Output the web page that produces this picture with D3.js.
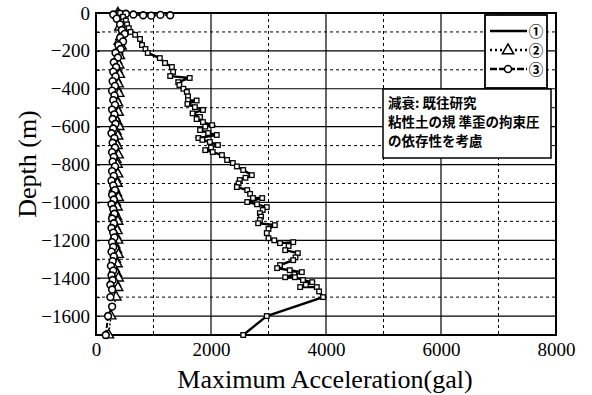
<!DOCTYPE html>
<html><head><meta charset="utf-8">
<script src="https://cdn.jsdelivr.net/npm/d3@7"></script>
<style>body{margin:0;background:#fff}svg{display:block}</style>
</head><body>
<svg id="c" width="592" height="395"></svg>
<script>
// ---- data ----
const xTicks = [0, 2000, 4000, 6000, 8000];
const yTicks = [0, -200, -400, -600, -800, -1000, -1200, -1400, -1600];
const legendLabels = ["①", "②", "③"];
const noteLines = ["減衰:  既往研究", "粘性土の規 準歪の拘束圧", "の依存性を考慮"];

// series 1 (solid line) : depth (m), max acceleration (gal)
const depth1 = [0,-20,-40,-60,-80,-100,-115,-137,-169,-190,-211,-238,-264,-285,-311,-333,-343,-365,-380,-400,-417,-440,-460,-462,-480,-497,-512,-530,-549,-560,-576,-592,-600,-618,-634,-644,-660,-670,-681,-697,-710,-724,-734,-750,-776,-792,-810,-829,-856,-870,-882,-900,-919,-935,-955,-977,-977,-998,-1010,-1025,-1040,-1057,-1075,-1093,-1110,-1120,-1140,-1162,-1189,-1200,-1215,-1210,-1230,-1252,-1268,-1290,-1305,-1331,-1347,-1358,-1368,-1380,-1395,-1395,-1410,-1421,-1435,-1447,-1447,-1470,-1500,-1600,-1700];
const accel1 = [420,470,520,540,570,600,680,765,800,860,900,1110,1200,1320,1340,1290,1630,1430,1450,1520,1580,1600,1600,1750,1590,1720,1860,1680,1810,1750,1860,2020,1900,1810,1950,2100,1780,1850,1980,2120,2000,1900,2030,2190,2280,2380,2450,2560,2710,2600,2500,2480,2450,2630,2680,2730,2890,2630,2800,2970,2900,2850,2870,2850,2820,3110,3000,2970,3000,3100,3200,3430,3350,3290,3510,3470,3430,3200,3150,3370,3580,3450,3290,3460,3600,3760,3650,3550,3840,3880,3950,2970,2560];

// series 2 (triangles)
const depth2 = [0,-25,-50,-75,-100,-125,-150,-175,-200,-225,-250,-275,-300,-325,-350,-375,-400,-425,-450,-475,-500,-525,-550,-575,-600,-625,-650,-675,-700,-725,-750,-775,-800,-825,-850,-875,-900,-925,-950,-975,-1000,-1025,-1050,-1075,-1100,-1125,-1150,-1175,-1200,-1225,-1250,-1275,-1300,-1325,-1350,-1375,-1400,-1425,-1450,-1500,-1600,-1700];
const accel2 = [380,420,450,410,470,430,400,440,380,410,360,400,370,410,350,390,360,400,340,380,350,390,330,370,400,350,380,330,370,340,390,350,370,330,380,340,370,320,360,390,340,370,320,360,380,330,370,340,380,330,360,390,340,370,320,360,390,340,380,350,260,220];

// series 3 (circles)
const depth3 = [-12,-10,-14,-12,-8,-4,-2,-8,-30,-45,-60,-75,-90,-110,-130,-150,-170,-190,-210,-235,-260,-285,-310,-335,-360,-385,-410,-435,-460,-485,-510,-535,-560,-585,-610,-635,-660,-685,-710,-735,-760,-785,-810,-835,-860,-885,-910,-935,-960,-985,-1010,-1035,-1060,-1085,-1110,-1135,-1160,-1185,-1210,-1235,-1260,-1285,-1310,-1335,-1360,-1385,-1410,-1435,-1460,-1500,-1550,-1600,-1700];
const accel3 = [1290,1120,960,820,650,520,400,300,360,480,420,520,450,500,420,470,390,430,340,380,310,350,300,340,290,330,280,320,300,330,280,320,290,340,300,270,320,290,330,280,310,290,330,280,310,270,300,330,280,310,270,300,320,280,310,270,300,320,280,300,270,310,290,260,300,270,290,250,280,250,280,210,170];

// ---- layout ----
const L = 96, R = 556, T = 13, B = 335;
const svg = d3.select("#c");
const x = d3.scaleLinear().domain([0, 8000]).range([L, R]);
const y = d3.scaleLinear().domain([-1700, 0]).range([B, T]);
const serif = "'Liberation Serif','DejaVu Serif',serif";
const cjk = "'Noto Sans CJK JP','Noto Sans CJK SC',sans-serif";

// grid
const g = svg.append("g");
const yMinor = [-100,-300,-500,-700,-900,-1100,-1300,-1500];
const yMajor = [-200,-400,-600,-800,-1000,-1200,-1400,-1600];
const xMinor = [1000,3000,5000,7000];
const xMajor = [2000,4000,6000];
g.selectAll(".hmin").data(yMinor).join("line")
  .attr("x1", L).attr("x2", R).attr("y1", d => y(d)).attr("y2", d => y(d))
  .attr("stroke", "#000").attr("stroke-width", 1).attr("stroke-dasharray", "3,3");
g.selectAll(".hmaj").data(yMajor).join("line")
  .attr("x1", L).attr("x2", R).attr("y1", d => y(d)).attr("y2", d => y(d))
  .attr("stroke", "#000").attr("stroke-width", 1.2);
g.selectAll(".vmin").data(xMinor).join("line")
  .attr("x1", d => x(d)).attr("x2", d => x(d)).attr("y1", T).attr("y2", B)
  .attr("stroke", "#000").attr("stroke-width", 1).attr("stroke-dasharray", "3,3");
g.selectAll(".vmaj").data(xMajor).join("line")
  .attr("x1", d => x(d)).attr("x2", d => x(d)).attr("y1", T).attr("y2", B)
  .attr("stroke", "#000").attr("stroke-width", 1.2);

// axes
const yAxis = d3.axisLeft(y).tickValues(yTicks).tickSize(0).tickPadding(6).tickFormat(d => d === 0 ? "0" : "\u2212" + Math.abs(d));
const ya = svg.append("g").attr("transform", `translate(${L},0)`).call(yAxis);
ya.select(".domain").remove();
ya.selectAll("text").attr("font-family", serif).attr("font-size", 19).attr("fill", "#000");
const yMinorTicks = d3.axisRight(y).tickValues(d3.range(-1700, 1, 100)).tickSize(4).tickFormat("");
const ym = svg.append("g").attr("transform", `translate(${L},0)`).call(yMinorTicks);
ym.select(".domain").remove();
ym.selectAll("line").attr("stroke", "#000");

const xAxis = d3.axisBottom(x).tickValues(xTicks).tickSize(0).tickPadding(8).tickFormat(d3.format("d"));
const xa = svg.append("g").attr("transform", `translate(0,${B})`).call(xAxis);
xa.select(".domain").remove();
xa.selectAll("text").attr("font-family", serif).attr("font-size", 19).attr("fill", "#000");

// frame
svg.append("rect").attr("x", L).attr("y", T).attr("width", R - L).attr("height", B - T)
  .attr("fill", "none").attr("stroke", "#000").attr("stroke-width", 2);

// titles
svg.append("text").attr("x", (L + R) / 2 - 1).attr("y", 388).attr("text-anchor", "middle")
  .attr("font-family", serif).attr("font-size", 26).text("Maximum Acceleration(gal)");
svg.append("text").attr("transform", "translate(36,164) rotate(-90)").attr("text-anchor", "middle")
  .attr("font-family", serif).attr("font-size", 26).text("Depth (m)");

// series
const mk = (d, a) => d.map((v, i) => [a[i], v]);
const s1 = mk(depth1, accel1), s2 = mk(depth2, accel2), s3 = mk(depth3, accel3);
const line = d3.line().x(d => x(d[0])).y(d => y(d[1]));

svg.append("path").datum(s2).attr("d", line).attr("fill", "none")
  .attr("stroke", "#000").attr("stroke-width", 1.5).attr("stroke-dasharray", "2,2");
svg.append("path").datum(s3).attr("d", line).attr("fill", "none")
  .attr("stroke", "#000").attr("stroke-width", 2).attr("stroke-dasharray", "5,2");
svg.append("path").datum(s1).attr("d", line).attr("fill", "none")
  .attr("stroke", "#000").attr("stroke-width", 2.4);

const tri = d3.symbol().type(d3.symbolTriangle).size(42);
svg.append("g").selectAll("path").data(s2).join("path")
  .attr("d", tri).attr("transform", d => `translate(${x(d[0])},${y(d[1])})`)
  .attr("fill", "#fff").attr("stroke", "#000").attr("stroke-width", 1.4);
svg.append("g").selectAll("circle").data(s3).join("circle")
  .attr("cx", d => x(d[0])).attr("cy", d => y(d[1])).attr("r", 3.4)
  .attr("fill", "#fff").attr("stroke", "#000").attr("stroke-width", 1.6);
svg.append("g").selectAll("rect").data(s1).join("rect")
  .attr("x", d => x(d[0]) - 2.3).attr("y", d => y(d[1]) - 2.3).attr("width", 4.6).attr("height", 4.6)
  .attr("fill", "#fff").attr("stroke", "#000").attr("stroke-width", 1.3);

// legend
const lg = svg.append("g");
lg.append("rect").attr("x", 485).attr("y", 15).attr("width", 62).attr("height", 73)
  .attr("fill", "#fff").attr("stroke", "#000").attr("stroke-width", 1.8);
const rowsY = [31, 50, 69];
lg.append("line").attr("x1", 490).attr("x2", 527).attr("y1", rowsY[0]).attr("y2", rowsY[0])
  .attr("stroke", "#000").attr("stroke-width", 2.5);
lg.append("line").attr("x1", 490).attr("x2", 527).attr("y1", rowsY[1]).attr("y2", rowsY[1])
  .attr("stroke", "#000").attr("stroke-width", 2.5).attr("stroke-dasharray", "2,3");
lg.append("path").attr("d", d3.symbol().type(d3.symbolTriangle).size(55))
  .attr("transform", `translate(508,${rowsY[1] + 0.5})`).attr("fill", "#fff").attr("stroke", "#000").attr("stroke-width", 1.5);
lg.append("line").attr("x1", 490).attr("x2", 527).attr("y1", rowsY[2]).attr("y2", rowsY[2])
  .attr("stroke", "#000").attr("stroke-width", 2.5).attr("stroke-dasharray", "7,2");
lg.append("circle").attr("cx", 508).attr("cy", rowsY[2]).attr("r", 3.5)
  .attr("fill", "#fff").attr("stroke", "#000").attr("stroke-width", 1.5);
lg.selectAll(".lt").data(legendLabels).join("text")
  .attr("x", 536).attr("y", (d, i) => rowsY[i] + 5.5).attr("text-anchor", "middle")
  .attr("font-family", cjk).attr("font-size", 14.5).attr("font-weight", "bold").text(d => d);

// annotation box
const nb = svg.append("g");
nb.append("rect").attr("x", 383).attr("y", 89).attr("width", 168).attr("height", 69)
  .attr("fill", "#fff").attr("stroke", "#000").attr("stroke-width", 1.5);
nb.selectAll("text").data(noteLines).join("text")
  .attr("x", 388).attr("y", (d, i) => 108 + i * 19)
  .attr("font-family", cjk).attr("font-size", 13.5).attr("font-weight", "bold").text(d => d);
</script>
</body></html>
